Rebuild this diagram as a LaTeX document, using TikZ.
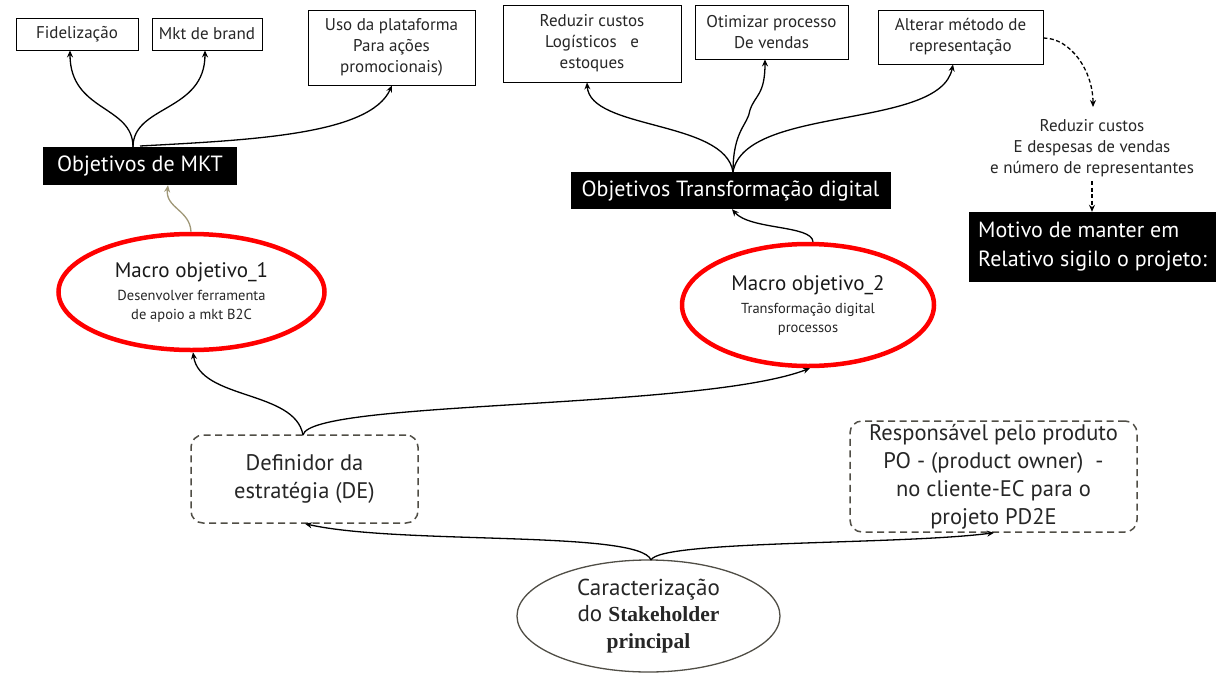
\documentclass[tikz,border=0pt]{standalone}
\usepackage{fontspec}
\setmainfont{PT Sans}
\newfontfamily\tnr{Liberation Serif}
\usetikzlibrary{shapes.geometric,arrows.meta}
\definecolor{tan}{RGB}{160,152,120}
\definecolor{dgray}{RGB}{80,78,70}
\begin{document}
\begin{tikzpicture}[x=1pt,y=-1pt,
  wbox/.style={draw=black,line width=0.8pt,fill=white,align=center,text=black!85,font=\fontsize{17}{21}\selectfont,inner sep=0pt},
  bbox/.style={fill=black,text=white,align=center,font=\fontsize{22}{24}\selectfont,inner sep=0pt},
  redell/.style={ellipse,draw=red,line width=4.5pt,align=center,inner sep=0pt,text=black!85,font=\fontsize{14.5}{19}\selectfont},
  dbox/.style={draw=dgray,dashed,dash pattern=on 7pt off 4.5pt,line width=1.5pt,rounded corners=12pt,align=center,font=\fontsize{22.5}{28}\selectfont,text=black!85,inner sep=0pt},
  conn/.style={-{Stealth[length=7pt,width=6pt]},line width=1.3pt},
  dconn/.style={-{Stealth[length=7pt,width=6pt]},line width=1.3pt,dash pattern=on 4pt off 2.5pt}]
\useasboundingbox[fill=white] (0,0) rectangle (1216,675);

% top boxes
\node[wbox,minimum width=122pt,minimum height=32pt] (fid) at (77,34) {Fidelização};
\node[wbox,minimum width=110pt,minimum height=32pt] (mkt) at (207,34) {Mkt de brand};
\node[wbox,minimum width=167pt,minimum height=75pt] (uso) at (391.5,47.5) {Uso da plataforma\\Para ações\\promocionais)};
\node[wbox,minimum width=178pt,minimum height=77pt] (red) at (592,43.5) {Reduzir custos\\Logísticos~~ e\\estoques};
\node[wbox,minimum width=153pt,minimum height=54pt] (oti) at (771.5,32) {Otimizar processo\\De vendas};
\node[wbox,minimum width=165pt,minimum height=54pt] (alt) at (960.5,37) {Alterar método de\\representação};

% black boxes
\node[bbox,minimum width=194pt,minimum height=38pt] (omkt) at (140,166) {Objetivos de MKT};
\node[bbox,minimum width=320pt,minimum height=37pt] (otd) at (730.5,190.5) {Objetivos Transformação digital};
\node[bbox,minimum width=247pt,minimum height=70pt,align=left,font=\fontsize{22}{29}\selectfont] (mot) at (1092.5,247) {Motivo de manter em\\Relativo sigilo o projeto:};

% free text
\node[align=center,text=black!85,font=\fontsize{17}{21}\selectfont,inner sep=0pt] (rc) at (1092,148) {Reduzir custos\\E despesas de vendas\\e número de representantes};

% ellipses
\node[redell,minimum width=266pt,minimum height=116pt] (m1) at (191.5,292) {{\fontsize{21}{24}\selectfont\color{black!90}Macro objetivo\_1}\\[4pt]Desenvolver ferramenta\\de apoio a mkt B2C};
\node[redell,minimum width=252pt,minimum height=122pt] (m2) at (808,305) {{\fontsize{21}{24}\selectfont\color{black!90}Macro objetivo\_2}\\[4pt]Transformação digital\\processos};

% dashed boxes
\node[dbox,minimum width=227pt,minimum height=88pt] (def) at (304.5,479) {Definidor da\\estratégia (DE)};
\node[dbox,minimum width=287pt,minimum height=111pt] (resp) at (993.5,476.5) {Responsável pelo produto\\PO - (product owner)~ -\\no cliente-EC para o\\projeto PD2E};

% stakeholder ellipse
\node[ellipse,draw=dgray,line width=1.3pt,minimum width=263pt,minimum height=112pt,align=center,inner sep=0pt,text=black!85,font=\fontsize{23}{26.5}\selectfont] (car) at (648.5,616) {Caracterização\\do {\tnr\bfseries\fontsize{21.5}{26.5}\selectfont Stakeholder}\\{\tnr\bfseries\fontsize{21.5}{26.5}\selectfont principal}};

% coordinates
\coordinate (omkttop) at (133,147);
\coordinate (omkttop2) at (140,146);
\coordinate (otdtop) at (733,172);
\coordinate (deftop) at (303,435);
\coordinate (cartop) at (651,560);

% connectors MKT
\draw[conn] (omkttop) .. controls (133,105) and (70,112) .. (fid.south-|70,0);
\draw[conn] (omkttop) .. controls (133,105) and (205,112) .. (mkt.south-|205,0);
\draw[conn] (omkttop2) .. controls (250,140) and (370,135) .. (uso.south-|392,0);
% connectors TD
\draw[conn] (otdtop) .. controls (725,120) and (590,130) .. (red.south-|587,0);
\draw[conn] (otdtop) .. controls (733,130) and (748,125) .. (750,110) .. controls (755,95) and (765,95) .. (oti.south-|765,0);
\draw[conn] (otdtop) .. controls (745,105) and (940,130) .. (alt.south-|953,0);
% dashed
\draw[dconn] (alt.east|-0,38) .. controls (1070,38) and (1093,70) .. (1093,107);
\draw[dconn] (1092,181) -- (mot.north-|1092,0);
% macro to objectives
\draw[-{Stealth[length=7pt,width=6pt]},line width=1.3pt,draw=tan] (m1.north-|191,0) .. controls (190,210) and (165,208) .. (omkt.south-|168,0);
\draw[conn] (m2.north-|813,0) .. controls (812,225) and (750,230) .. (otd.south-|732,0);
% definidor to macros
\draw[conn] (deftop) .. controls (295,390) and (200,400) .. (m1.south-|193,0);
\draw[conn] (deftop) .. controls (310,400) and (700,410) .. (m2.south-|810,0);
% stakeholder to boxes
\draw[conn] (cartop) .. controls (640,530) and (400,545) .. (def.south-|305,0);
\draw[conn] (cartop) .. controls (660,540) and (900,545) .. (resp.south-|994,0);
\end{tikzpicture}
\end{document}
